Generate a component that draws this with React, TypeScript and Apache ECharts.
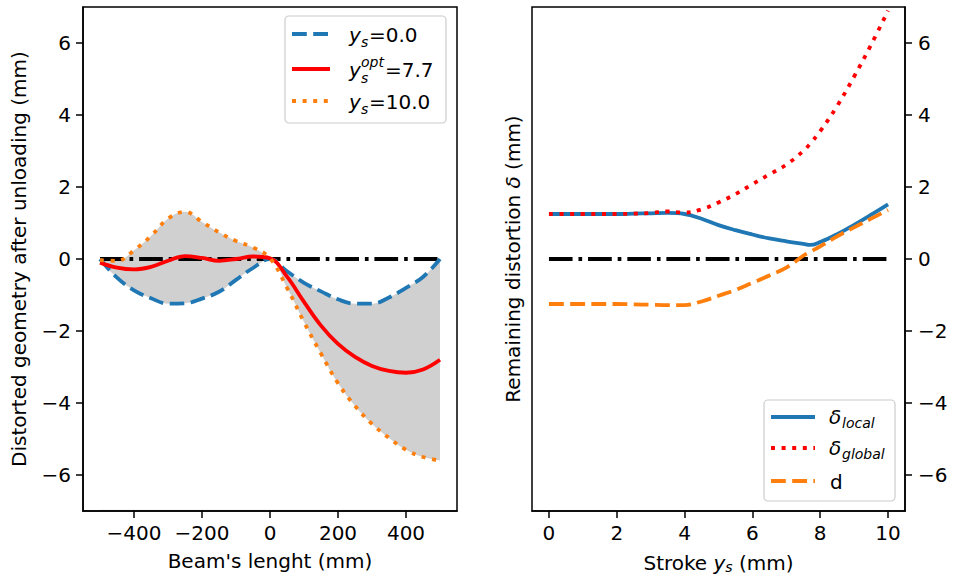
import React, { useEffect, useRef } from "react";
import * as echarts from "echarts";

// ---- Left panel data: distorted geometry along the beam ----
const BEAM_X = [-500, -450, -400, -350, -300, -250, -200, -150, -100, -50, 0, 50, 100, 150, 200, 250, 300, 350, 400, 450, 500];
const DIST_YS_0 = [0, -0.52, -0.87, -1.09, -1.24, -1.23, -1.1, -0.91, -0.58, -0.25, 0, -0.34, -0.66, -0.9, -1.12, -1.24, -1.24, -1.07, -0.8, -0.5, 0];
const DIST_YS_OPT = [-0.1, -0.24, -0.29, -0.22, -0.05, 0.08, 0.03, -0.05, 0.0, 0.07, 0.02, -0.49, -1.19, -1.85, -2.36, -2.72, -2.97, -3.11, -3.16, -3.07, -2.8];
const DIST_YS_10 = [-0.03, -0.05, 0.24, 0.64, 1.12, 1.31, 1.03, 0.74, 0.5, 0.32, 0.02, -0.8, -1.75, -2.63, -3.45, -4.08, -4.58, -4.97, -5.3, -5.5, -5.6];
const ZERO_BEAM_X = [-500, 500];

// ---- Right panel data: remaining distortion vs stroke ----
const STROKE = [0, 0.5, 1, 1.5, 2, 2.5, 3, 3.5, 4, 4.5, 5, 5.5, 6, 6.5, 7, 7.5, 7.7, 8, 8.5, 9, 9.5, 10];
const DELTA_LOCAL = [1.25, 1.25, 1.25, 1.25, 1.25, 1.26, 1.27, 1.28, 1.25, 1.12, 0.94, 0.8, 0.68, 0.57, 0.49, 0.42, 0.39, 0.47, 0.69, 0.95, 1.23, 1.52];
const DELTA_GLOBAL = [1.25, 1.25, 1.25, 1.25, 1.25, 1.26, 1.28, 1.32, 1.29, 1.38, 1.57, 1.8, 2.08, 2.35, 2.62, 3.0, 3.2, 3.55, 4.25, 5.07, 5.95, 6.9];
const D_VALUES = [-1.25, -1.25, -1.25, -1.25, -1.25, -1.26, -1.27, -1.28, -1.28, -1.18, -1.02, -0.86, -0.66, -0.46, -0.24, 0.09, 0.2, 0.35, 0.63, 0.88, 1.12, 1.36];
const ZERO_STROKE_X = [0, 10];

// ---- Tick labels ----
const LEFT_X_TICKS = [-400, -200, 0, 200, 400];
const RIGHT_X_TICKS = [0, 2, 4, 6, 8, 10];
const Y_TICKS = [-6, -4, -2, 0, 2, 4, 6];

const FONT = '"DejaVu Sans", sans-serif';
const FS = 20;
const SUB = 14;
const BLUE = "#1f77b4";
const ORANGE = "#ff7f0e";
const RED = "#ff0000";
const GREY = "#d0d0d0";
const LW = 3.8;
const DASH = [14.8, 6.4];
const DOT = [4, 6.6];
const DASHDOT = [23.7, 5.9, 3.7, 5.9];

const minus = (v: number) => String(v).replace("-", "\u2212");
const pairs = (xs: number[], ys: number[]) => xs.map((x, i) => [x, ys[i]]);

const spine = { color: "#000", width: 1.5 };
const labelStyle = { fontSize: FS, fontFamily: FONT, color: "#000" };

function txt(x: number, y: number, text: string, size: number, italic: boolean) {
  return {
    type: "text",
    x,
    y,
    z: 100,
    style: {
      text,
      fontSize: size,
      fontFamily: FONT,
      fontStyle: italic ? "italic" : "normal",
      fill: "#000",
      align: "left",
      verticalAlign: "middle",
    },
  };
}
function sample(x1: number, x2: number, y: number, color: string, dash: number[] | null) {
  return {
    type: "line",
    z: 100,
    shape: { x1, y1: y, x2, y2: y },
    style: { stroke: color, lineWidth: LW, lineDash: dash || undefined, lineCap: "butt" },
  };
}

export default function App() {
  const ref = useRef<HTMLDivElement>(null);
  useEffect(() => {
    if (!ref.current) return;
    const chart = echarts.init(ref.current, undefined, { renderer: "svg" });

    // envelope of the two extreme strokes (fill between them)
    const upper = BEAM_X.map((x, i) => [x, Math.max(DIST_YS_0[i], DIST_YS_10[i])]);
    const lower = BEAM_X.map((x, i) => [x, Math.min(DIST_YS_0[i], DIST_YS_10[i])]);
    const SM = 0.4;

    const lineBase = (name: string, xi: number, data: number[][], color: string, dash: any, z: number) => ({
      name,
      type: "line",
      xAxisIndex: xi,
      yAxisIndex: xi === 0 ? 0 : 1,
      data,
      smooth: SM,
      symbol: "none",
      silent: true,
      z,
      lineStyle: { color, width: LW, type: dash, cap: "butt" },
    });

    const ca = 69; // left legend middle row
    const option: any = {
      animation: false,
      backgroundColor: "#fff",
      textStyle: { fontFamily: FONT },
      grid: [
        { left: 83, top: 7, width: 374, height: 504, show: true, borderColor: "#000", borderWidth: 1.5, backgroundColor: "transparent" },
        { left: 532, top: 7, width: 373, height: 504, show: true, borderColor: "#000", borderWidth: 1.5, backgroundColor: "transparent" },
      ],
      xAxis: [
        {
          gridIndex: 0, type: "value", min: -550, max: 550,
          axisLine: { show: true, onZero: false, lineStyle: spine },
          axisTick: { show: true, customValues: LEFT_X_TICKS, length: 7, lineStyle: spine },
          axisLabel: { customValues: LEFT_X_TICKS, formatter: minus, margin: 12, ...labelStyle },
          splitLine: { show: false },
          name: "Beam's lenght (mm)", nameLocation: "middle", nameGap: 40,
          nameTextStyle: labelStyle,
        },
        {
          gridIndex: 1, type: "value", min: -0.5, max: 10.5,
          axisLine: { show: true, onZero: false, lineStyle: spine },
          axisTick: { show: true, customValues: RIGHT_X_TICKS, length: 7, lineStyle: spine },
          axisLabel: { customValues: RIGHT_X_TICKS, formatter: minus, margin: 12, ...labelStyle },
          splitLine: { show: false },
          name: "{n|Stroke }{i|y}{s|s}{n| (mm)}", nameLocation: "middle", nameGap: 40,
          nameTextStyle: {
            ...labelStyle,
            rich: {
              n: { fontSize: FS, fontFamily: FONT, color: "#000" },
              i: { fontSize: FS, fontFamily: FONT, fontStyle: "italic", color: "#000" },
              s: { fontSize: SUB, fontFamily: FONT, fontStyle: "italic", color: "#000", padding: [9, 0, 0, 0] },
            },
          },
        },
      ],
      yAxis: [
        {
          gridIndex: 0, type: "value", min: -7, max: 7, position: "left",
          axisLine: { show: true, onZero: false, lineStyle: spine },
          axisTick: { show: true, customValues: Y_TICKS, length: 7, lineStyle: spine },
          axisLabel: { customValues: Y_TICKS, formatter: minus, margin: 12, ...labelStyle },
          splitLine: { show: false },
          name: "Distorted geometry after unloading (mm)", nameLocation: "middle", nameGap: 54,
          nameTextStyle: labelStyle,
        },
        {
          gridIndex: 1, type: "value", min: -7, max: 7, position: "right",
          axisLine: { show: true, onZero: false, lineStyle: spine },
          axisTick: { show: true, customValues: Y_TICKS, length: 7, lineStyle: spine },
          axisLabel: { customValues: Y_TICKS, formatter: minus, margin: 13, ...labelStyle },
          splitLine: { show: false },
        },
        {
          gridIndex: 1, type: "value", min: -7, max: 7, position: "left",
          axisLine: { show: false, onZero: false },
          axisTick: { show: false },
          axisLabel: { show: false },
          splitLine: { show: false },
          name: "{n|Remaining distortion }{i|δ}{n| (mm)}", nameLocation: "middle", nameGap: 9,
          nameTextStyle: {
            ...labelStyle,
            rich: {
              n: { fontSize: FS, fontFamily: FONT, color: "#000" },
              i: { fontSize: FS, fontFamily: FONT, fontStyle: "italic", color: "#000" },
            },
          },
        },
      ],
      series: [
        {
          name: "fill-upper", type: "line", xAxisIndex: 0, yAxisIndex: 0, data: upper,
          smooth: SM, symbol: "none", silent: true, z: 1, lineStyle: { width: 0, opacity: 0 },
          areaStyle: { color: GREY, opacity: 1, origin: -6.95 },
        },
        {
          name: "fill-lower", type: "line", xAxisIndex: 0, yAxisIndex: 0, data: lower,
          smooth: SM, symbol: "none", silent: true, z: 1.5, lineStyle: { width: 0, opacity: 0 },
          areaStyle: { color: "#ffffff", opacity: 1, origin: -6.95 },
        },
        lineBase("zero-left", 0, ZERO_BEAM_X.map((x) => [x, 0]), "#000", DASHDOT, 2),
        lineBase("ys=0.0", 0, pairs(BEAM_X, DIST_YS_0), BLUE, DASH, 3),
        lineBase("ys_opt=7.7", 0, pairs(BEAM_X, DIST_YS_OPT), RED, "solid", 4),
        lineBase("ys=10.0", 0, pairs(BEAM_X, DIST_YS_10), ORANGE, DOT, 5),
        lineBase("zero-right", 1, ZERO_STROKE_X.map((x) => [x, 0]), "#000", DASHDOT, 2),
        lineBase("δlocal", 1, pairs(STROKE, DELTA_LOCAL), BLUE, "solid", 3),
        lineBase("δglobal", 1, pairs(STROKE, DELTA_GLOBAL), RED, DOT, 4),
        lineBase("d", 1, pairs(STROKE, D_VALUES), ORANGE, DASH, 5),
      ],
      graphic: [
        // left legend
        {
          type: "rect", z: 99,
          shape: { x: 285, y: 16, width: 161, height: 107, r: 4 },
          style: { fill: "rgba(255,255,255,0.85)", stroke: "#cccccc", lineWidth: 1.2 },
        },
        sample(292, 330, 34, BLUE, DASH),
        txt(349, 34.5, "y", FS, true),
        txt(361, 41.5, "s", SUB, true),
        txt(369, 34.5, "=0.0", FS, false),
        sample(292, 330, ca, RED, null),
        txt(349, ca + 0.5, "y", FS, true),
        txt(361, ca - 7.5, "opt", SUB, true),
        txt(361, ca + 8.5, "s", SUB, true),
        txt(385, ca + 0.5, "=7.7", FS, false),
        sample(292, 330, 101, ORANGE, DOT),
        txt(349, 101.5, "y", FS, true),
        txt(361, 108.5, "s", SUB, true),
        txt(369, 101.5, "=10.0", FS, false),
        // right legend
        {
          type: "rect", z: 99,
          shape: { x: 764, y: 400, width: 131, height: 101, r: 4 },
          style: { fill: "rgba(255,255,255,0.85)", stroke: "#cccccc", lineWidth: 1.2 },
        },
        sample(771, 815, 417, BLUE, null),
        txt(829, 417, "δ", FS, true),
        txt(842, 422.5, "local", SUB, true),
        sample(771, 815, 448, RED, DOT),
        txt(829, 448, "δ", FS, true),
        txt(842, 453.5, "global", SUB, true),
        sample(771, 815, 481, ORANGE, DASH),
        txt(830, 481.5, "d", FS, false),
      ],
    };
    chart.setOption(option);
    return () => chart.dispose();
  }, []);
  return <div ref={ref} style={{ position: "fixed", left: 0, top: 0, width: 954, height: 579 }} />;
}
